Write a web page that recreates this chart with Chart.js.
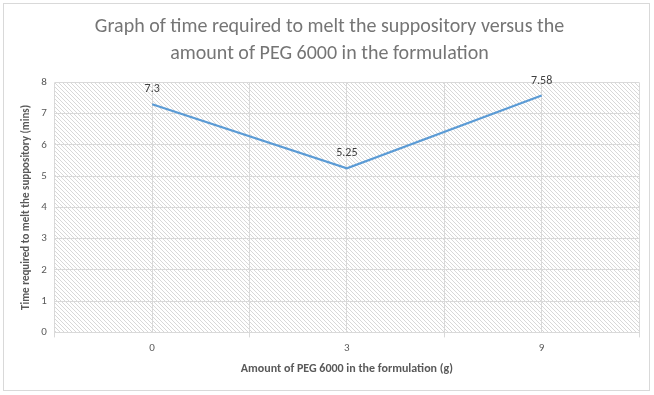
<!DOCTYPE html>
<html>
<head>
<meta charset="utf-8">
<script src="https://cdn.jsdelivr.net/npm/chart.js@4.4.0/dist/chart.umd.min.js"></script>
<style>
  html, body { margin: 0; padding: 0; background: #fff; }
  .frame {
    position: absolute; left: 3px; top: 3px;
    width: 647px; height: 388px;
    border: 1px solid #d9d9d9; box-sizing: border-box;
  }
  #wrap { position: absolute; left: 0; top: 0; width: 654px; height: 395px; }
</style>
</head>
<body>
<div class="frame"></div>
<div id="wrap"><canvas id="chart"></canvas></div>
<script>
// chart data
const categories = ['0', '3', '9'];
const meltTimes = [7.3, 5.25, 7.58];
const yTicks = [0, 1, 2, 3, 4, 5, 6, 7, 8];

const TEXT = '#595959';
const GRID = '#d9d9d9';
const FONT = "Carlito, 'Liberation Sans Narrow', 'Open Sans', sans-serif";

// diagonal hatch used as the plot area fill
function makeHatch() {
  const c = document.createElement('canvas');
  c.width = 4; c.height = 4;
  const g = c.getContext('2d');
  g.fillStyle = '#fff';
  g.fillRect(0, 0, 4, 4);
  g.strokeStyle = '#d8d8d8';
  g.lineWidth = 1;
  g.beginPath();
  g.moveTo(-1, -1); g.lineTo(5, 5);
  g.moveTo(-1, 3); g.lineTo(1, 5);
  g.moveTo(3, -1); g.lineTo(5, 1);
  g.stroke();
  return g.createPattern(c, 'repeat');
}

const hatchBackground = {
  id: 'hatchBackground',
  beforeDraw(chart) {
    const { ctx, chartArea: a } = chart;
    ctx.save();
    ctx.fillStyle = makeHatch();
    ctx.fillRect(a.left, a.top, a.right - a.left, a.bottom - a.top);
    ctx.restore();
  }
};

// value labels above each point
const pointLabels = {
  id: 'pointLabels',
  afterDatasetsDraw(chart) {
    const { ctx } = chart;
    const meta = chart.getDatasetMeta(0);
    ctx.save();
    ctx.font = '12px ' + FONT;
    ctx.fillStyle = '#404040';
    ctx.textAlign = 'center';
    ctx.textBaseline = 'bottom';
    meta.data.forEach((pt, i) => {
      ctx.fillText(String(meltTimes[i]), pt.x, pt.y - 9);
    });
    ctx.restore();
  }
};

new Chart(document.getElementById('chart'), {
  type: 'line',
  data: {
    datasets: [{
      data: meltTimes.map((v, i) => ({ x: i, y: v })),
      borderColor: '#5b9bd5',
      borderWidth: 2.25,
      pointRadius: 0,
      tension: 0,
      fill: false
    }]
  },
  options: {
    responsive: true,
    maintainAspectRatio: false,
    animation: false,
    layout: { padding: { left: 20, right: 15, top: 6, bottom: 19 } },
    plugins: {
      legend: { display: false },
      tooltip: { enabled: false },
      title: {
        display: true,
        text: ['Graph of time required to melt the suppository versus the',
               'amount of PEG 6000 in the formulation'],
        color: '#757575',
        font: { family: FONT, size: 20, weight: 'normal', lineHeight: 1.36 },
        padding: { top: 7, bottom: 15 }
      }
    },
    scales: {
      x: {
        type: 'linear',
        min: -0.5,
        max: categories.length - 0.5,
        afterBuildTicks(scale) {
          const t = [];
          for (let v = -0.5; v <= categories.length - 0.5; v += 0.5) t.push({ value: v });
          scale.ticks = t;
        },
        grid: {
          color: GRID,
          drawTicks: true,
          tickLength: 5,
          tickColor: ctx => (Number.isInteger(ctx.tick.value) ? 'rgba(0,0,0,0)' : GRID)
        },
        border: { color: GRID },
        ticks: {
          color: TEXT,
          font: { family: FONT, size: 11 },
          padding: 4,
          autoSkip: false,
          maxRotation: 0,
          callback: v => (Number.isInteger(v) ? categories[v] : '')
        },
        title: {
          display: true,
          text: 'Amount of PEG 6000 in the formulation (g)',
          color: TEXT,
          font: { family: FONT, size: 12, weight: 'bold' },
          padding: { top: 3, bottom: 0 }
        }
      },
      y: {
        min: yTicks[0],
        max: yTicks[yTicks.length - 1],
        afterBuildTicks(scale) {
          scale.ticks = yTicks.map(v => ({ value: v }));
        },
        grid: { color: GRID, drawTicks: false },
        border: { display: false },
        ticks: {
          color: TEXT,
          font: { family: FONT, size: 11 },
          padding: 8
        },
        title: {
          display: true,
          text: 'Time required to melt the suppository (mins)',
          color: TEXT,
          font: { family: FONT, size: 11, weight: 'bold' },
          padding: { top: 0, bottom: 0 }
        }
      }
    }
  },
  plugins: [hatchBackground, pointLabels]
});
</script>
</body>
</html>
